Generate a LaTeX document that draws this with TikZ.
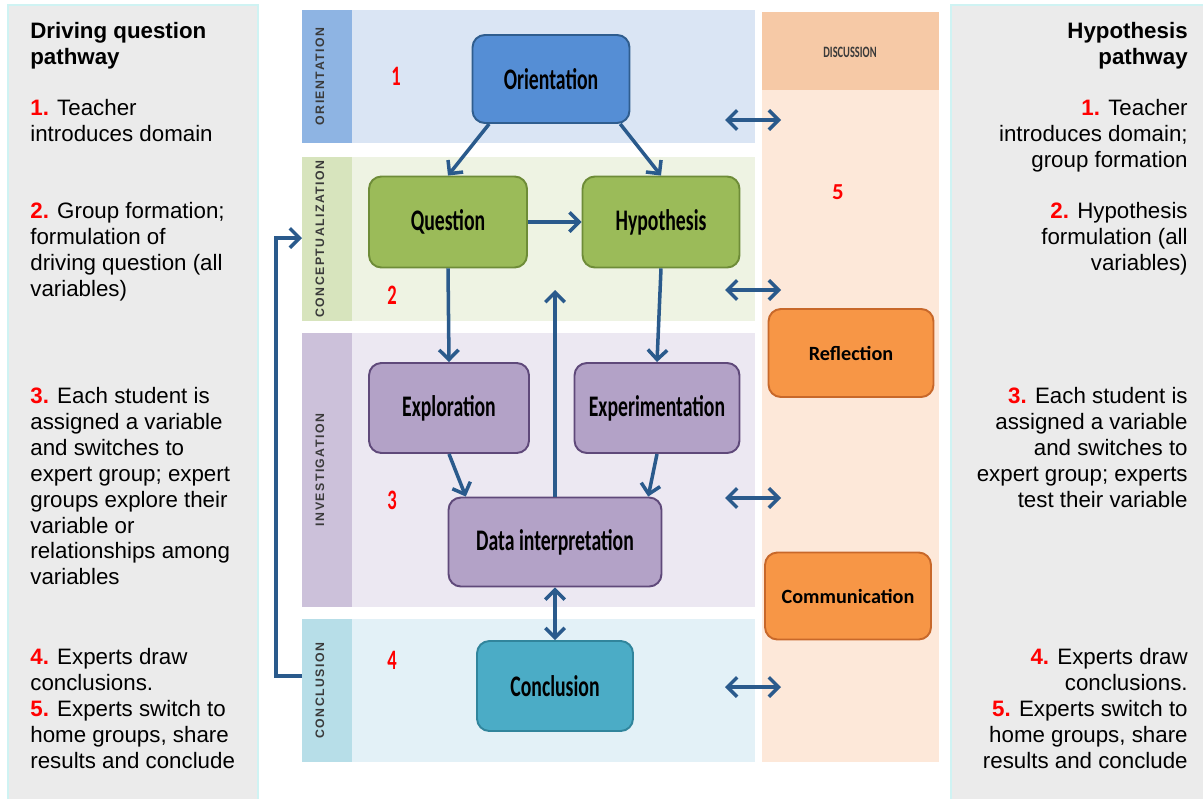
\documentclass[tikz,border=0pt]{standalone}
\usepackage{fontspec}
\setmainfont{Liberation Sans}
\newfontfamily\boxfont[FakeStretch=0.66]{Carlito}
\newfontfamily\orfont{Carlito}
\newfontfamily\stripfont[LetterSpace=12]{Liberation Sans}
\usetikzlibrary{arrows.meta}
\usetikzlibrary{calc}
\usetikzlibrary{positioning}
\definecolor{PanelGray}{HTML}{EBEBEB}
\definecolor{PanelEdge}{HTML}{CFF3F3}
\definecolor{StripBlue}{HTML}{8EB4E3}
\definecolor{BandBlue}{HTML}{DAE5F4}
\definecolor{StripGreen}{HTML}{D7E4BD}
\definecolor{BandGreen}{HTML}{EEF3E3}
\definecolor{StripPurple}{HTML}{CCC1DA}
\definecolor{BandPurple}{HTML}{ECE8F2}
\definecolor{StripCyan}{HTML}{B7DEE8}
\definecolor{BandCyan}{HTML}{E3F1F7}
\definecolor{DiscHead}{HTML}{F6C9A6}
\definecolor{DiscBody}{HTML}{FDE8D9}
\definecolor{OrientFill}{HTML}{558ED5}
\definecolor{OrientEdge}{HTML}{2F5D8E}
\definecolor{ConcFill}{HTML}{9BBB59}
\definecolor{ConcEdge}{HTML}{6E8C38}
\definecolor{InvFill}{HTML}{B3A2C7}
\definecolor{InvEdge}{HTML}{5F497A}
\definecolor{ClFill}{HTML}{4BACC6}
\definecolor{ClEdge}{HTML}{31859C}
\definecolor{DiscFill}{HTML}{F79646}
\definecolor{DiscEdge}{HTML}{C8682A}
\definecolor{FlowBlue}{HTML}{2A5A8C}
\definecolor{StripText}{HTML}{3A3A3A}
\newcommand{\sidefont}{\fontsize{12.7}{14.74}\selectfont}
\newcommand{\stepnum}[1]{\textcolor{red}{\textbf{#1.}}}

\begin{document}
\begin{tikzpicture}[x=0.02cm, y=-0.02cm,
  every node/.style={inner sep=0pt},
  flow/.style={line width=2pt, FlowBlue, -{Straight Barb[length=5.5pt,width=11pt]}},
  dflow/.style={flow, {Straight Barb[length=5.5pt,width=11pt]}-{Straight Barb[length=5.5pt,width=11pt]}},
  box/.style={draw, rounded corners=7pt, line width=1.1pt,
    font=\boxfont\fontsize{17}{20}\selectfont\bfseries},
  orbox/.style={box, fill=DiscFill, draw=DiscEdge,
    font=\orfont\fontsize{11.5}{13}\selectfont\bfseries},
  striplbl/.style={rotate=90, text=StripText, font=\stripfont\fontsize{7}{8}\selectfont\bfseries},
  stepno/.style={text=red, font=\boxfont\fontsize{16}{18}\selectfont\bfseries},
  lefttxt/.style={anchor=north west, align=left, font=\sidefont},
  righttxt/.style={anchor=north east, align=right, font=\sidefont}]
  \useasboundingbox (0,0) rectangle (1203,798);
  \fill[white] (0,0) rectangle (1203,798);

  % side panels
  \draw[PanelEdge, fill=PanelGray, line width=0.8pt] (8,5) rectangle (258,800);
  \draw[PanelEdge, fill=PanelGray, line width=0.8pt] (951,5) rectangle (1205,800);

  % phase bands
  \foreach \ya/\yb/\sc/\bc/\lbl [count=\i] in {10/143/StripBlue/BandBlue/ORIENTATION,
      157/321/StripGreen/BandGreen/CONCEPTUALIZATION,
      333/607/StripPurple/BandPurple/INVESTIGATION,
      619/762/StripCyan/BandCyan/CONCLUSION}{%
    \fill[\bc] (352,\ya) rectangle (755,\yb);
    \fill[\sc] (302,\ya) rectangle (352,\yb);
    \node[striplbl] (strip\i) at (320,{(\ya+\yb)/2}) {\lbl};
  }

  % discussion column
  \fill[DiscBody] (762,12) rectangle (939,762);
  \fill[DiscHead] (762,12) rectangle (939,90);
  \node[text=StripText, font=\boxfont\fontsize{9}{10}\selectfont\bfseries] (dischead) at (850,52) {DISCUSSION};

  % phase numbers
  \node[stepno] (no1) at (396,76) {1};
  \node[stepno] (no2) at (392,295) {2};
  \node[stepno] (no3) at (392,500) {3};
  \node[stepno] (no4) at (392,660) {4};
  \node[text=red, font=\orfont\fontsize{13}{15}\selectfont\bfseries] (no5) at (838,192) {5};

  % phase boxes
  \node[box, fill=OrientFill, draw=OrientEdge, minimum width=3.14cm, minimum height=1.76cm] (orient) at (551,79) {Orientation};
  \node[box, fill=ConcFill, draw=ConcEdge, minimum width=3.16cm, minimum height=1.82cm] (quest) at (448,222) {Question};
  \node[box, fill=ConcFill, draw=ConcEdge, minimum width=3.14cm, minimum height=1.82cm] (hypo) at (661,222) {Hypothesis};
  \node[box, fill=InvFill, draw=InvEdge, minimum width=3.2cm, minimum height=1.8cm] (explo) at (449,408) {Exploration};
  \node[box, fill=InvFill, draw=InvEdge, minimum width=3.3cm, minimum height=1.8cm] (exper) at (657,408) {Experimentation};
  \node[box, fill=InvFill, draw=InvEdge, minimum width=4.26cm, minimum height=1.78cm] (datai) at (555,542) {Data interpretation};
  \node[box, fill=ClFill, draw=ClEdge, minimum width=3.12cm, minimum height=1.8cm] (concl) at (555,686) {Conclusion};
  \node[orbox, minimum width=3.3cm, minimum height=1.76cm] (refl) at (851,353) {Reflection};
  \node[orbox, minimum width=3.32cm, minimum height=1.74cm] (comm) at (848,596) {Communication};

  % connectors
  \draw[flow] (orient.216) -- (quest.north);
  \draw[flow] (orient.327) -- (hypo.north);
  \draw[flow] (quest) -- (hypo);
  \draw[flow] (quest.south) -- (explo.north);
  \draw[flow] (hypo.south) -- (exper.north);
  \draw[flow] (explo.south) -- (datai.153);
  \draw[flow] (exper.south) -- (datai.26);
  \coordinate (upend) at (555,290);
  \draw[flow] (datai.north) -- (upend);
  \draw[dflow] (datai.south) -- (concl.north);

  % loop back from conclusion
  \coordinate (loopS) at (302,676);
  \coordinate (loopE) at (302,238);
  \draw[flow] (loopS) -- ++(-26,0) |- (loopE);

  % links to discussion
  \foreach \y [count=\i] in {120,290,498,687}{%
    \coordinate (dl\i) at (725,\y);
    \coordinate (dr\i) at (781,\y);
    \draw[dflow] (dl\i) -- (dr\i);
  }

  % driving question pathway
  \node[lefttxt] (lt0) at (30,22) {\textbf{Driving question}\\\textbf{pathway}};
  \node[lefttxt] (lt1) at (30,99) {\stepnum{1} Teacher\\introduces domain};
  \node[lefttxt] (lt2) at (30,202) {\stepnum{2} Group formation;\\formulation of\\driving question (all\\variables)};
  \node[lefttxt] (lt3) at (30,387) {\stepnum{3} Each student is\\assigned a variable\\and switches to\\expert group; expert\\groups explore their\\variable or\\relationships among\\variables};
  \node[lefttxt] (lt4) at (30,648) {\stepnum{4} Experts draw\\conclusions.\\\stepnum{5} Experts switch to\\home groups, share\\results and conclude};

  % hypothesis pathway
  \node[righttxt] (rt0) at (1188,22) {\textbf{Hypothesis}\\\textbf{pathway}};
  \node[righttxt] (rt1) at (1188,99) {\stepnum{1} Teacher\\introduces domain;\\group formation};
  \node[righttxt] (rt2) at (1188,202) {\stepnum{2} Hypothesis\\formulation (all\\variables)};
  \node[righttxt] (rt3) at (1188,387) {\stepnum{3} Each student is\\assigned a variable\\and switches to\\expert group; experts\\test their variable};
  \node[righttxt] (rt4) at (1188,648) {\stepnum{4} Experts draw\\conclusions.\\\stepnum{5} Experts switch to\\home groups, share\\results and conclude};
\end{tikzpicture}
\end{document}
